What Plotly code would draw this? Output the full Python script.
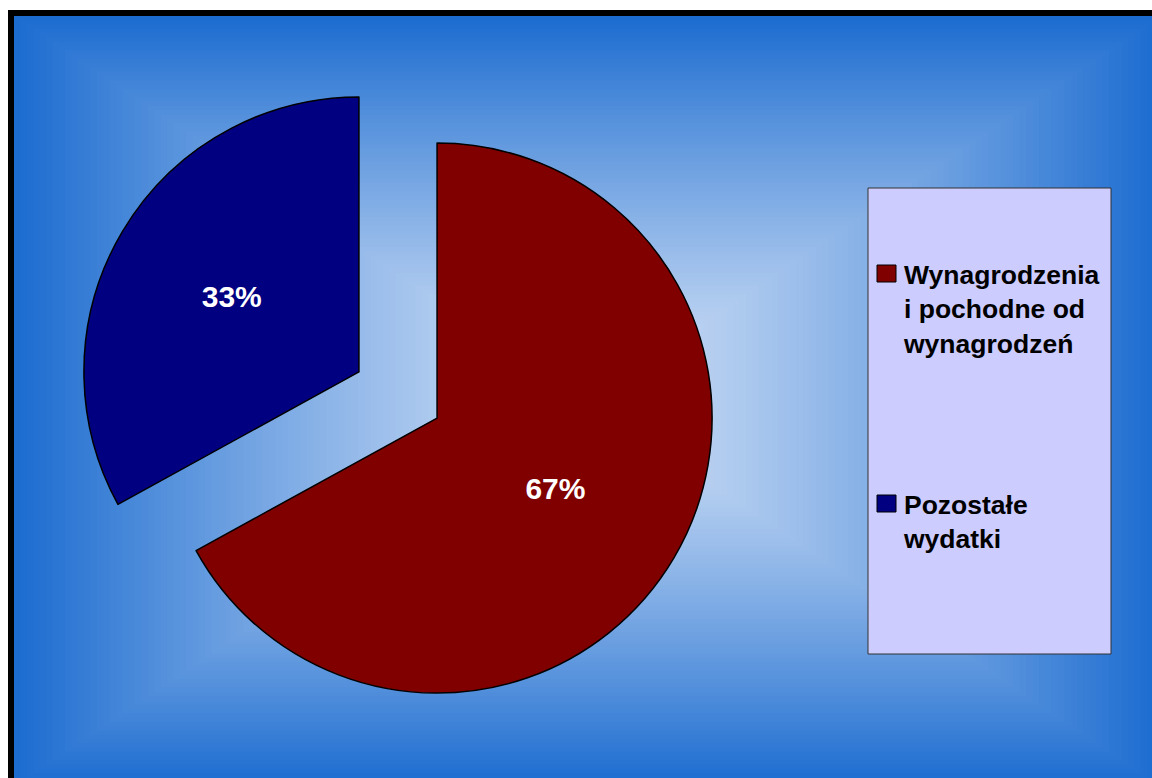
import plotly.graph_objects as go

# ---- data ----
categories = ["Wynagrodzenia i pochodne od wynagrodzeń", "Pozostałe wydatki"]
legend_text = ["Wynagrodzenia<br>i pochodne od<br>wynagrodzeń", "Pozostałe<br>wydatki"]
values = [67, 33]
colors = ["#800000", "#000080"]

W, H = 1152, 778


def px(x):
    return x / W


def py(y):
    return 1 - y / H


fig = go.Figure()

fig.add_trace(go.Pie(
    labels=categories,
    values=values,
    sort=False,
    direction="clockwise",
    rotation=0,
    pull=[0.165, 0.165],
    marker=dict(colors=colors, line=dict(color="black", width=1.5)),
    textinfo="percent",
    textposition="inside",
    insidetextorientation="horizontal",
    textfont=dict(family="Liberation Sans, Arial, sans-serif", size=30, color="white", weight="bold"),
    domain=dict(x=[px(77.6), px(718.4)], y=[py(715.4), py(74.6)]),
    showlegend=False,
    hoverinfo="label+percent",
))

shapes = []
# black frame
shapes.append(dict(type="rect", xref="paper", yref="paper", x0=px(8), x1=px(1170), y0=py(800), y1=py(10),
                   fillcolor="black", line=dict(width=0), layer="below"))
# rectangular "from centre" gradient
x0, x1, y0, y1 = 14, 1160, 16, 786
cx, cy = (x0 + x1) / 2, (y0 + y1) / 2
hw, hh = (x1 - x0) / 2, (y1 - y0) / 2
edge = (28, 108, 208)
centre = (208, 224, 246)
N = 90
for i in range(N):
    t = 1 - i / N
    f = t ** 1.25
    c = tuple(int(round(centre[k] + (edge[k] - centre[k]) * f)) for k in range(3))
    shapes.append(dict(type="rect", xref="paper", yref="paper",
                       x0=px(cx - hw * t), x1=px(cx + hw * t),
                       y0=py(cy + hh * t), y1=py(cy - hh * t),
                       fillcolor="rgb(%d,%d,%d)" % c, line=dict(width=0), layer="below"))
# legend box
shapes.append(dict(type="rect", xref="paper", yref="paper", x0=px(868), x1=px(1111), y0=py(654), y1=py(188),
                   fillcolor="#ccccff", line=dict(color="#333333", width=1), layer="below"))

annotations = []
item_tops = [265, 495]
for i, (txt, col) in enumerate(zip(legend_text, colors)):
    top = item_tops[i]
    shapes.append(dict(type="rect", xref="paper", yref="paper", x0=px(877), x1=px(896),
                       y0=py(top + 17), y1=py(top), fillcolor=col,
                       line=dict(color="black", width=1), layer="above"))
    annotations.append(dict(xref="paper", yref="paper", x=px(901), y=py(top - 7), xanchor="left", yanchor="top",
                            text="<b>%s</b>" % txt, showarrow=False, align="left",
                            font=dict(family="Liberation Sans, Arial, sans-serif", size=26.5, color="black")))

fig.update_layout(
    width=W, height=H,
    margin=dict(l=0, r=0, t=0, b=0),
    paper_bgcolor="white",
    plot_bgcolor="white",
    shapes=shapes,
    annotations=annotations,
)

fig.write_html("out.html",
               config={"displayModeBar": False},
               post_script="document.body.style.margin='0px';document.body.style.overflow='hidden';")
